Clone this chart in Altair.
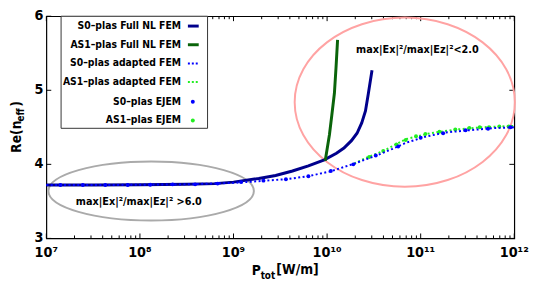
import altair as alt
import pandas as pd

# ---------------- data (log10 of P_tot in W/m, Re(n_eff)) ----------------
s0_full_logp = [7.0, 7.5, 8.0, 8.5, 8.8, 9.0, 9.27, 9.45, 9.63, 9.80, 9.97, 10.10, 10.18, 10.26, 10.32, 10.37, 10.41, 10.44, 10.48]
s0_full_n = [3.72, 3.72, 3.725, 3.73, 3.74, 3.76, 3.81, 3.85, 3.91, 3.98, 4.06, 4.15, 4.22, 4.32, 4.42, 4.56, 4.72, 4.95, 5.27]

as1_full_logp = [9.98, 10.025, 10.05, 10.078, 10.095, 10.112]
as1_full_n = [4.05, 4.40, 4.66, 4.96, 5.30, 5.68]

s0_adapt_logp = [7.0, 7.5, 8.0, 8.5, 9.0, 9.13, 9.34, 9.57, 9.80, 10.05, 10.29, 10.42, 10.53, 10.70, 10.84, 11.04, 11.26, 11.51, 11.79, 12.0]
s0_adapt_n = [3.72, 3.72, 3.725, 3.73, 3.75, 3.76, 3.78, 3.80, 3.84, 3.91, 4.01, 4.07, 4.12, 4.21, 4.29, 4.37, 4.43, 4.46, 4.49, 4.50]

as1_adapt_logp = [10.29, 10.42, 10.60, 10.84, 11.10, 11.37, 11.65, 12.0]
as1_adapt_n = [4.01, 4.09, 4.18, 4.34, 4.42, 4.47, 4.50, 4.52]

s0_ejem_logp = [7.15, 7.39, 7.63, 7.87, 8.11, 8.35, 8.59, 8.83, 9.08, 9.32, 9.56, 9.80, 10.04, 10.28, 10.52, 10.76, 11.00, 11.24, 11.48, 11.72, 11.96]
s0_ejem_n = [3.72, 3.72, 3.72, 3.72, 3.725, 3.73, 3.73, 3.74, 3.76, 3.78, 3.80, 3.84, 3.91, 4.00, 4.12, 4.24, 4.36, 4.42, 4.46, 4.48, 4.50]

as1_ejem_logp = [10.45, 10.60, 10.74, 10.84, 10.95, 11.05, 11.20, 11.37, 11.52, 11.63, 11.73, 11.84, 11.94]
as1_ejem_n = [4.10, 4.18, 4.27, 4.33, 4.38, 4.41, 4.44, 4.47, 4.49, 4.50, 4.50, 4.51, 4.51]

legend_labels = ["S0\u2013plas Full NL FEM", "AS1\u2013plas Full NL FEM", "S0\u2013plas adapted FEM",
                 "AS1\u2013plas adapted FEM", "S0\u2013plas EJEM", "AS1\u2013plas EJEM"]

x_major = [1e7, 1e8, 1e9, 1e10, 1e11, 1e12]
x_labels = ["10\u2077", "10\u2078", "10\u2079", "10\u00b9\u2070", "10\u00b9\u00b9", "10\u00b9\u00b2"]
y_major = [3, 4, 5, 6]
y_labels = ["3", "4", "5", "6"]

ann_hi = "max|Ex|\u00b2/max|Ez|\u00b2<2.0"
ann_lo = "max|Ex|\u00b2/max|Ez|\u00b2 >6.0"

# ---------------- style ----------------
W, H = 476, 226
FONT = "DejaVu Sans Condensed, DejaVu Sans"
NAVY, DKGREEN, BLUE, LIME = "#00008c", "#0a640a", "#0000ff", "#22ee22"
PINK, GRAY = "#ffa3a3", "#aaaaaa"

xs = alt.Scale(type="log", domain=[1e7, 1e12], nice=False)
ys = alt.Scale(domain=[3, 6], nice=False, zero=False)


def frame(logp, n):
    return pd.DataFrame({"P": [10 ** v for v in logp], "n": n})


def X():
    return alt.X("P:Q", scale=xs, axis=None, title=None)


def Y():
    return alt.Y("n:Q", scale=ys, axis=None, title=None)


one = pd.DataFrame({"d": [0]})
txt = dict(font=FONT, fontWeight="bold", color="black")

layers = []

# inward ticks on all four sides
minor = [m * 10 ** d for d in range(7, 12) for m in range(2, 10)]
tick_major = pd.DataFrame({"P": x_major, "lab": x_labels})
tick_minor = pd.DataFrame({"P": minor})
ytick = pd.DataFrame({"n": y_major, "lab": y_labels})
for d, ln in ((tick_major, 5), (tick_minor, 3)):
    layers.append(alt.Chart(d).mark_rule(color="black", strokeWidth=1).encode(
        x=X(), y=alt.value(H), y2=alt.value(H - ln)))
    layers.append(alt.Chart(d).mark_rule(color="black", strokeWidth=1).encode(
        x=X(), y=alt.value(0), y2=alt.value(ln)))
layers.append(alt.Chart(ytick).mark_rule(color="black", strokeWidth=1).encode(
    y=Y(), x=alt.value(0), x2=alt.value(5)))
layers.append(alt.Chart(ytick).mark_rule(color="black", strokeWidth=1).encode(
    y=Y(), x=alt.value(W - 5), x2=alt.value(W)))

# tick labels
layers.append(alt.Chart(tick_major).mark_text(fontSize=14.5, align="center", baseline="top", **txt).encode(
    x=X(), y=alt.value(H + 8), text="lab:N"))
layers.append(alt.Chart(ytick).mark_text(fontSize=14.5, align="right", baseline="middle", **txt).encode(
    y=Y(), x=alt.value(-3), text="lab:N"))


# ellipses (annotation shapes), anchored at their centres in data space
def ellipse_path(e):
    k = 0.5523
    return (f"M1,0 C1,{k*e:.4f} {k:.4f},{e:.4f} 0,{e:.4f} C{-k:.4f},{e:.4f} -1,{k*e:.4f} -1,0 "
            f"C-1,{-k*e:.4f} {-k:.4f},{-e:.4f} 0,{-e:.4f} C{k:.4f},{-e:.4f} 1,{-k*e:.4f} 1,0 Z")


layers.append(alt.Chart(frame([8.12], [3.64])).mark_point(
    shape=ellipse_path(30 / 104.5), filled=False, color=GRAY, strokeWidth=2, opacity=1,
    size=209 ** 2).encode(x=X(), y=Y()))
layers.append(alt.Chart(frame([10.83], [4.84])).mark_point(
    shape=ellipse_path(86 / 112), filled=False, color=PINK, strokeWidth=2, opacity=1,
    size=224 ** 2).encode(x=X(), y=Y()))

# data series
layers.append(alt.Chart(frame(s0_full_logp, s0_full_n)).mark_line(color=NAVY, strokeWidth=3).encode(
    x=X(), y=Y()))
layers.append(alt.Chart(frame(as1_full_logp, as1_full_n)).mark_line(color=DKGREEN, strokeWidth=3).encode(
    x=X(), y=Y()))
layers.append(alt.Chart(frame(as1_adapt_logp, as1_adapt_n)).mark_line(
    color=LIME, strokeWidth=2, strokeDash=[2, 2.5]).encode(x=X(), y=Y()))
layers.append(alt.Chart(frame(as1_ejem_logp, as1_ejem_n)).mark_circle(
    color=LIME, size=16, opacity=1).encode(x=X(), y=Y()))
layers.append(alt.Chart(frame(s0_adapt_logp, s0_adapt_n)).mark_line(
    color=BLUE, strokeWidth=2, strokeDash=[2, 2.5]).encode(x=X(), y=Y()))
layers.append(alt.Chart(frame(s0_ejem_logp, s0_ejem_n)).mark_circle(
    color=BLUE, size=16, opacity=1).encode(x=X(), y=Y()))

# annotations
layers.append(alt.Chart(frame([10.31], [5.55])).mark_text(
    text=ann_hi, fontSize=11, align="left", baseline="middle", **txt).encode(x=X(), y=Y()))
layers.append(alt.Chart(frame([7.315], [3.485])).mark_text(
    text=ann_lo, fontSize=11, align="left", baseline="middle", **txt).encode(x=X(), y=Y()))

# legend box
layers.append(alt.Chart(one).mark_rect(fill="white", stroke="#333333", strokeWidth=1).encode(
    x=alt.value(15), x2=alt.value(164), y=alt.value(0), y2=alt.value(114)))
row_y = [10, 29, 48, 67, 87, 106]
for i, lab in enumerate(legend_labels):
    layers.append(alt.Chart(one).mark_text(text=lab, fontSize=10.5, align="right", baseline="middle", **txt).encode(
        x=alt.value(137), y=alt.value(row_y[i])))
sym = [(NAVY, 3, None), (DKGREEN, 3, None), (BLUE, 2, [2, 2]), (LIME, 2, [2, 2])]
for i, (c, w, dash) in enumerate(sym):
    kw = dict(color=c, strokeWidth=w)
    if dash:
        kw["strokeDash"] = dash
    layers.append(alt.Chart(one).mark_rule(**kw).encode(
        x=alt.value(144), x2=alt.value(155), y=alt.value(row_y[i]), y2=alt.value(row_y[i])))
for i, c in ((4, BLUE), (5, LIME)):
    layers.append(alt.Chart(one).mark_circle(color=c, size=16, opacity=1).encode(
        x=alt.value(149), y=alt.value(row_y[i])))

# axis titles (with subscripts)
layers.append(alt.Chart(one).mark_text(text="Re(n", fontSize=14, angle=270, align="left", baseline="middle", **txt).encode(
    x=alt.value(-30), y=alt.value(139)))
layers.append(alt.Chart(one).mark_text(text="eff", fontSize=10, angle=270, align="left", baseline="middle", **txt).encode(
    x=alt.value(-26), y=alt.value(107)))
layers.append(alt.Chart(one).mark_text(text=")", fontSize=14, angle=270, align="left", baseline="middle", **txt).encode(
    x=alt.value(-30), y=alt.value(92)))
layers.append(alt.Chart(one).mark_text(text="P", fontSize=14, align="left", baseline="alphabetic", **txt).encode(
    x=alt.value(209), y=alt.value(263)))
layers.append(alt.Chart(one).mark_text(text="tot", fontSize=10, align="left", baseline="alphabetic", **txt).encode(
    x=alt.value(218), y=alt.value(267)))
layers.append(alt.Chart(one).mark_text(text="[W/m]", fontSize=14, align="left", baseline="alphabetic", **txt).encode(
    x=alt.value(234), y=alt.value(262)))

chart = alt.layer(*layers).properties(
    width=W, height=H,
    autosize=alt.AutoSizeParams(type="none"),
    padding={"left": 39, "top": 6, "right": 16, "bottom": 44},
).configure_view(stroke="black", strokeWidth=1.2)

chart.save("out.html", embed_options={"renderer": "svg", "actions": False})
